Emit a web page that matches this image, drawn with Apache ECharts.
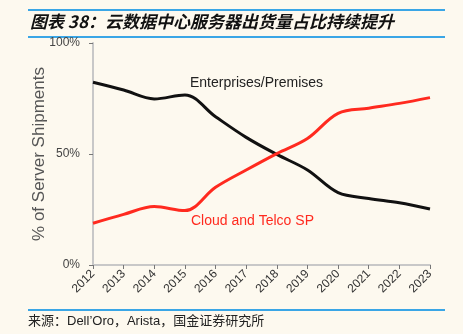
<!DOCTYPE html>
<html><head><meta charset="utf-8">
<script src="https://cdn.jsdelivr.net/npm/echarts@6/dist/echarts.min.js"></script>
<style>html,body{margin:0;padding:0;background:#fdf9ef;}#c{width:463px;height:334px;}</style>
</head><body><div id="c"></div>
<script>
const years = ['2012','2013','2014','2015','2016','2017','2018','2019','2020','2021','2022','2023'];
const enterprise = [82.3, 78.8, 74.8, 76.6, 66.8, 57.5, 49.8, 42.8, 32.6, 30.0, 28.0, 25.2];
const cloud = [18.8, 22.8, 26.3, 24.5, 35.0, 42.8, 50.2, 57.0, 68.3, 70.6, 72.8, 75.4];
const yTicks = [0, 50, 100];
const seriesNames = ['Enterprises/Premises', 'Cloud and Telco SP'];
const titleText = '图表 38：云数据中心服务器出货量占比持续提升';
const sourceText = '来源：Dell’Oro，Arista，国金证券研究所';

const chart = echarts.init(document.getElementById('c'));
chart.setOption({
  backgroundColor: '#fdf9ef',
  animation: false,
  grid: {left: 93, right: 33, top: 43, bottom: 69},
  xAxis: {
    type: 'category', data: years, boundaryGap: false,
    axisLine: {lineStyle: {color: '#c8c8c8', width: 2}},
    axisTick: {show: true, length: 4, inside: false, lineStyle: {color: '#777'}},
    axisLabel: {rotate: 45, color: '#333', fontFamily: 'Liberation Sans', fontSize: 12, margin: 7}
  },
  yAxis: {
    type: 'value', min: yTicks[0], max: yTicks[2], interval: 50,
    name: '% of Server Shipments', nameLocation: 'middle', nameGap: 45, nameMoveOverlap: false,
    nameTextStyle: {color: '#555', fontFamily: 'Liberation Sans', fontSize: 17},
    axisLine: {show: true, lineStyle: {color: '#c8c8c8', width: 2}},
    axisTick: {show: true, length: 4, lineStyle: {color: '#777'}},
    splitLine: {show: false},
    axisLabel: {formatter: '{value}%', color: '#444', fontFamily: 'Liberation Sans', fontSize: 12, margin: 13}
  },
  series: [
    {name: seriesNames[0], type: 'line', data: enterprise, smooth: 0.35, showSymbol: false,
     lineStyle: {color: '#111', width: 3}},
    {name: seriesNames[1], type: 'line', data: cloud, smooth: 0.35, showSymbol: false,
     lineStyle: {color: '#ff2a1f', width: 3}}
  ],
  graphic: [
    {type: 'line', shape: {x1: 28, y1: 10, x2: 445, y2: 10}, style: {stroke: '#3aa6e6', lineWidth: 2}},
    {type: 'line', shape: {x1: 28, y1: 37, x2: 445, y2: 37}, style: {stroke: '#3aa6e6', lineWidth: 2}},
    {type: 'text', left: 30, top: 13, style: {text: titleText, font: 'italic bold 17px "Noto Sans CJK SC", "Liberation Sans"', fill: '#111'}},
    {type: 'line', shape: {x1: 28, y1: 310, x2: 445, y2: 310}, style: {stroke: '#3aa6e6', lineWidth: 2}},
    {type: 'text', left: 28, top: 315, style: {text: sourceText, font: '13px "Liberation Sans", "Noto Sans CJK SC"', fill: '#222'}},
    {type: 'text', left: 190, top: 76, style: {text: seriesNames[0], font: '14px "Liberation Sans"', fill: '#222'}},
    {type: 'text', left: 191, top: 214, style: {text: seriesNames[1], font: '14px "Liberation Sans"', fill: '#ff2a1f'}}
  ]
});
</script></body></html>
